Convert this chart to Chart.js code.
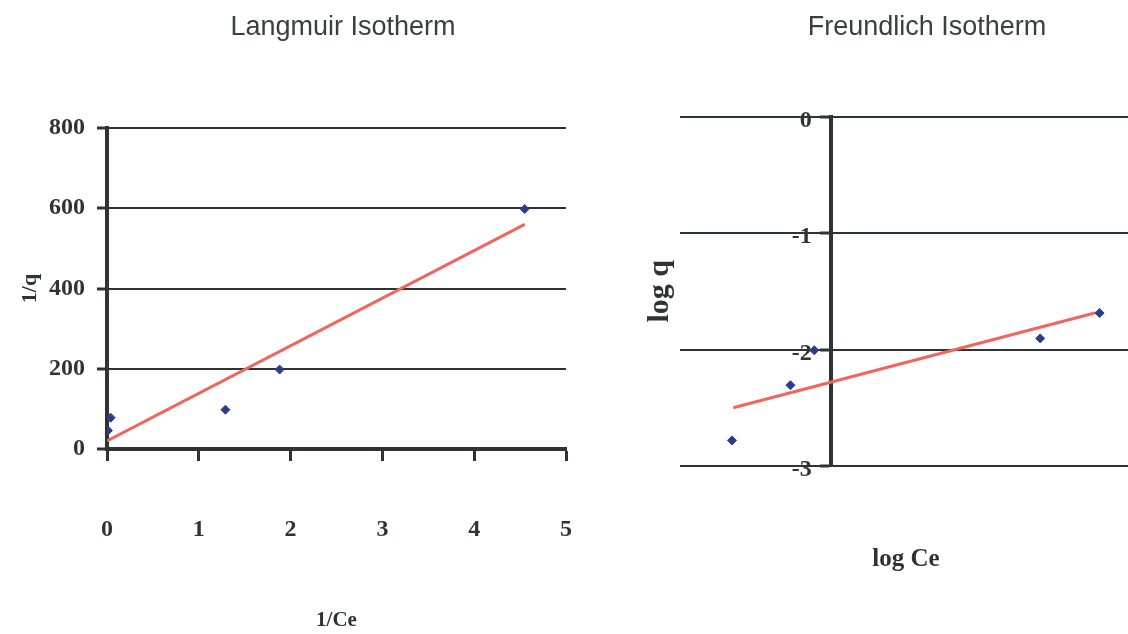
<!DOCTYPE html>
<html>
<head>
<meta charset="utf-8">
<script src="https://cdn.jsdelivr.net/npm/chart.js@4.4.1/dist/chart.umd.min.js"></script>
<style>
  html, body { margin: 0; padding: 0; background: #ffffff; overflow: hidden; width: 1128px; height: 634px; }
  #wrap { position: relative; width: 1128px; height: 634px; overflow: hidden; }
  canvas { position: absolute; top: 0; }
  #langmuir { left: 0; }
  #freundlich { left: 620px; }
</style>
</head>
<body>
<div id="wrap">
  <canvas id="langmuir" width="686" height="634"></canvas>
  <canvas id="freundlich" width="614" height="634"></canvas>
</div>
<script>
// Langmuir isotherm: 1/q plotted against 1/Ce
const langmuirInvCe = [0.01, 0.04, 1.29, 1.88, 4.55];
const langmuirInvQ  = [46, 78, 98, 198, 598];
const langmuirFitX  = [0, 4.55];
const langmuirFitY  = [20, 560];
const langmuirXTicks = [0, 1, 2, 3, 4, 5];
const langmuirYTicks = [0, 200, 400, 600, 800];

// Freundlich isotherm: log q plotted against log Ce
const freundlichLogCe = [-0.655, -0.267, -0.109, 1.391, 1.785];
const freundlichLogQ  = [-2.78, -2.306, -2.006, -1.904, -1.686];
const freundlichFitX  = [-0.647, 1.758];
const freundlichFitY  = [-2.50, -1.684];
const freundlichYTicks = [0, -1, -2, -3];

const INK = '#2e3433';
const POINT = '#2b3d8c';
const FIT = '#f0665e';
const SERIF = "'Liberation Serif', 'Times New Roman', serif";
const SANS = "'Liberation Sans', Arial, sans-serif";

const pairs = (xs, ys) => xs.map((x, i) => ({ x: x, y: ys[i] }));
const fixedTicks = list => scale => { scale.ticks = list.map(v => ({ value: v })); };

// Moves the tick labels of an axis (used for the axis that sits at x = 0)
const shiftLabels = (dx, dy) => scale => {
  if (scale.$shifted) return;
  scale.$shifted = true;
  const base = scale._computeLabelItems;
  if (typeof base !== 'function') return;
  scale._computeLabelItems = function (area) {
    const items = base.call(this, area);
    items.forEach(it => {
      if (it.options && it.options.translation) {
        it.options.translation[0] += dx;
        it.options.translation[1] += dy;
      }
    });
    return items;
  };
};

// Empty axis that only reserves room at the side of a plot
const spacer = (position, width) => ({
  type: 'linear',
  axis: 'y',
  position: position,
  min: 0, max: 1,
  afterFit: s => { s.width = width; },
  grid: { display: false, drawTicks: false },
  border: { display: false },
  ticks: { display: false }
});

const pointSet = (xs, ys) => ({
  type: 'scatter',
  data: pairs(xs, ys),
  yAxisID: 'y',
  pointStyle: 'rectRot',
  pointRadius: 4.5,
  pointBackgroundColor: POINT,
  pointBorderColor: POINT,
  pointBorderWidth: 1,
  showLine: false,
  order: 1
});
const fitSet = (xs, ys) => ({
  type: 'line',
  data: pairs(xs, ys),
  yAxisID: 'y',
  borderColor: FIT,
  borderWidth: 3,
  pointRadius: 0,
  fill: false,
  tension: 0,
  order: 2
});

const titleOpts = (text, bottom) => ({
  display: true,
  text: text,
  color: '#3a4040',
  font: { family: SANS, size: 27, weight: 'normal', lineHeight: 1.2 },
  padding: { top: 11.8, bottom: bottom }
});

Chart.defaults.font.family = SERIF;
Chart.defaults.color = INK;

// Left panel
new Chart(document.getElementById('langmuir'), {
  type: 'scatter',
  data: {
    datasets: [
      pointSet(langmuirInvCe, langmuirInvQ),
      fitSet(langmuirFitX, langmuirFitY)
    ]
  },
  options: {
    responsive: false,
    devicePixelRatio: 1,
    animation: false,
    layout: { padding: 0 },
    plugins: {
      legend: { display: false },
      tooltip: { enabled: false },
      title: titleOpts('Langmuir Isotherm', 83.8)
    },
    scales: {
      x: {
        type: 'linear',
        min: 0, max: 5,
        afterBuildTicks: fixedTicks(langmuirXTicks),
        afterFit: s => { s.height = 185; },
        grid: { drawOnChartArea: false, drawTicks: true, tickLength: 12, tickWidth: 3, tickColor: INK },
        border: { display: true, width: 4, color: INK },
        ticks: { padding: 54, font: { family: SERIF, size: 24, weight: 'bold' }, color: INK },
        title: { display: true, text: '1/Ce', color: INK,
                 font: { family: SERIF, size: 21, weight: 'bold', lineHeight: 1.2 },
                 padding: { top: 0, bottom: 1 } }
      },
      y: {
        type: 'linear',
        position: 'left',
        min: 0, max: 800,
        afterBuildTicks: fixedTicks(langmuirYTicks),
        afterFit: s => { s.width = 107; },
        grid: { color: INK, lineWidth: 2, drawTicks: true, tickLength: 10, tickWidth: 3, tickColor: INK },
        border: { display: true, width: 4, color: INK },
        ticks: { padding: 12, font: { family: SERIF, size: 24, weight: 'bold' }, color: INK },
        title: { display: true, text: '1/q', color: INK,
                 font: { family: SERIF, size: 22, weight: 'bold', lineHeight: 1.2 },
                 padding: { top: 17, bottom: 0 } }
      },
      rightRoom: spacer('right', 120)
    }
  }
});

// Right panel
new Chart(document.getElementById('freundlich'), {
  type: 'scatter',
  data: {
    datasets: [
      pointSet(freundlichLogCe, freundlichLogQ),
      fitSet(freundlichFitX, freundlichFitY)
    ]
  },
  options: {
    responsive: false,
    devicePixelRatio: 1,
    animation: false,
    layout: { padding: 0 },
    plugins: {
      legend: { display: false },
      tooltip: { enabled: false },
      title: titleOpts('Freundlich Isotherm', 72.5)
    },
    scales: {
      x: {
        type: 'linear',
        min: -1, max: 2,
        afterFit: s => { s.height = 168; },
        grid: { display: false },
        border: { display: false },
        ticks: { display: false },
        title: { display: true, text: 'log Ce', color: INK,
                 font: { family: SERIF, size: 25, weight: 'bold', lineHeight: 1.2 },
                 padding: { top: 0, bottom: 59 } }
      },
      y: {
        type: 'linear',
        position: { x: 0 },
        min: -3, max: 0,
        afterBuildTicks: fixedTicks(freundlichYTicks),
        afterFit: shiftLabels(-19, 4),
        grid: { color: INK, lineWidth: 2, drawTicks: true, tickLength: 9, tickWidth: 3, tickColor: INK },
        border: { display: true, width: 4, color: INK },
        ticks: { padding: 4, font: { family: SERIF, size: 24, weight: 'bold' }, color: INK },
        title: { display: false }
      },
      yTitle: {
        type: 'linear',
        axis: 'y',
        position: 'left',
        min: 0, max: 1,
        afterFit: s => { s.width = 60; },
        grid: { display: false, drawTicks: false },
        border: { display: false },
        ticks: { display: false },
        title: { display: true, text: 'log q', color: INK,
                 font: { family: SERIF, size: 30, weight: 'bold', lineHeight: 1.2 },
                 padding: { top: 22, bottom: 0 } }
      },
      rightRoom: spacer('right', 102)
    }
  }
});
</script>
</body>
</html>
